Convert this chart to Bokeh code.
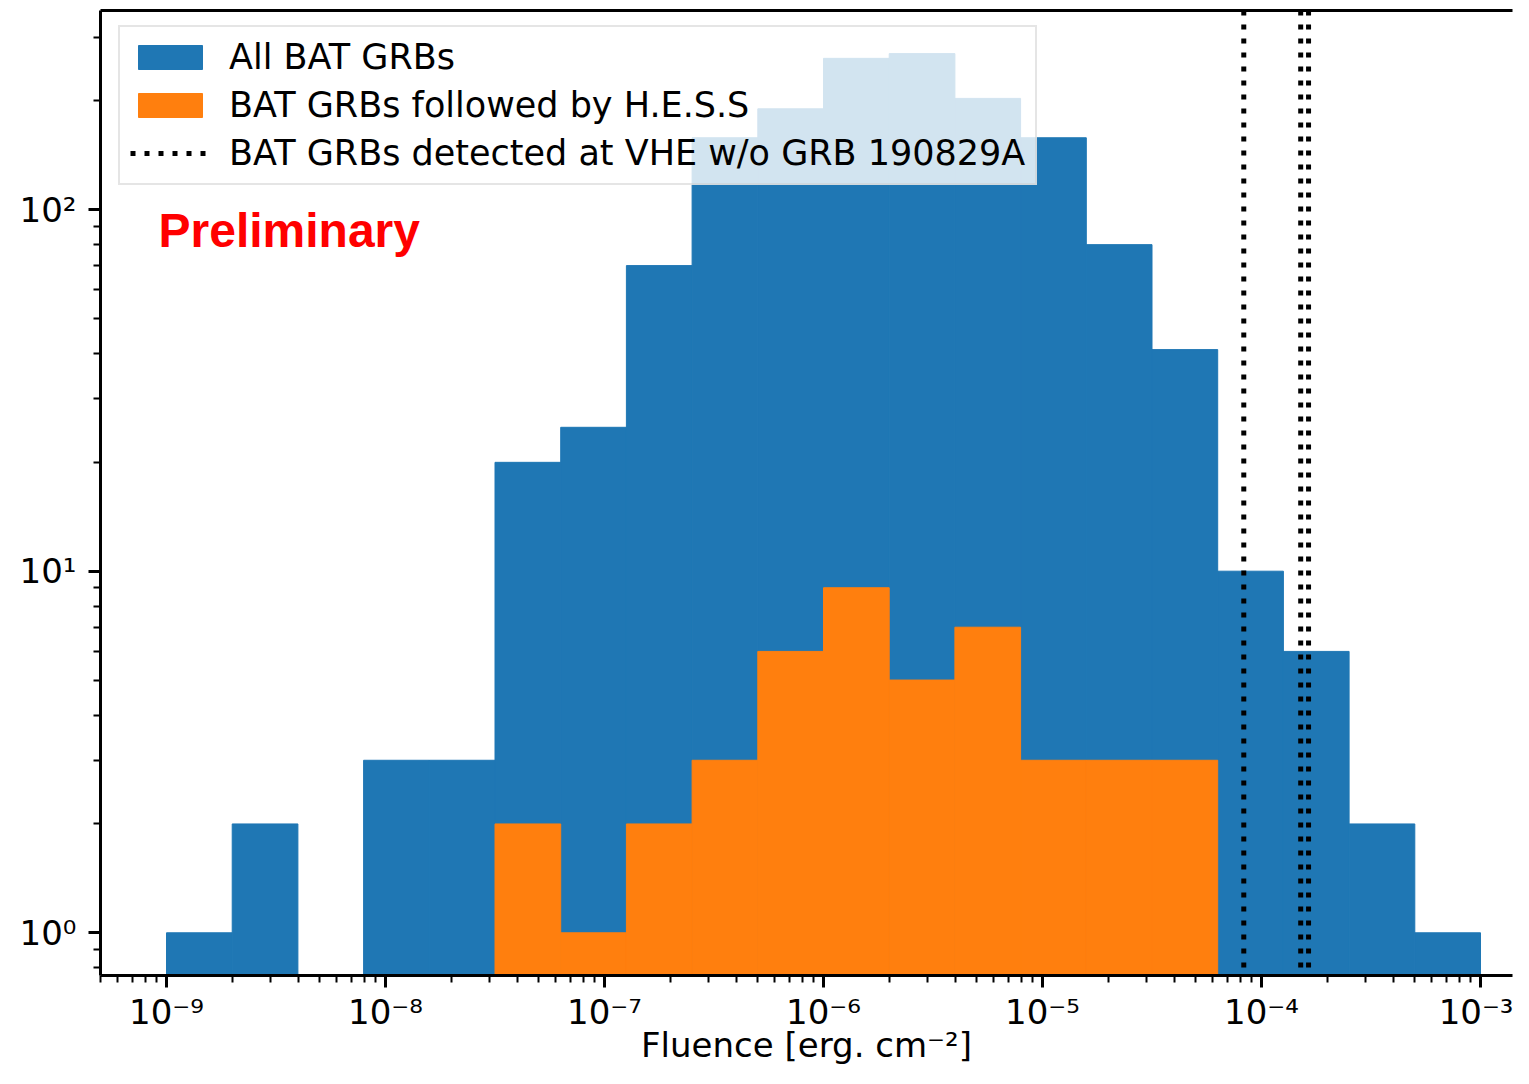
import numpy as np
from bokeh.plotting import figure
from bokeh.models import (FixedTicker, LogAxis, Legend, LegendItem, Label,
                          ColumnDataSource, Range1d)
from bokeh.embed import file_html
from bokeh.resources import INLINE

# ---------------- data ----------------
bin_edges = np.logspace(-9, -3, 21)          # 20 log bins, 1e-9 .. 1e-3
all_bat_counts = [1, 2, 0, 3, 3, 20, 25, 70, 158, 190, 262, 270, 203, 158, 80, 41, 10, 6, 2, 1]
hess_counts = [0, 0, 0, 0, 0, 2, 1, 2, 3, 6, 9, 5, 7, 3, 3, 3, 0, 0, 0, 0]
vhe_fluences = [8.3e-5, 1.51e-4, 1.64e-4]

x_tick_values = [float(f"1e{e}") for e in range(-9, -2)]
x_tick_labels = ["10⁻⁹", "10⁻⁸", "10⁻⁷", "10⁻⁶", "10⁻⁵", "10⁻⁴", "10⁻³"]
y_tick_values = [1.0, 10.0, 100.0]
y_tick_labels = ["10⁰", "10¹", "10²"]

series_names = ["All BAT GRBs", "BAT GRBs followed by H.E.S.S",
                "BAT GRBs detected at VHE w/o GRB 190829A"]
x_label = "Fluence [erg. cm⁻²]"
annot_text = "Preliminary"

BLUE = "#1f77b4"
ORANGE = "#ff7f0e"

# ---------------- view ----------------
W, H = 1513, 1068
F_LEFT, F_RIGHT, F_TOP, F_BOTTOM = 100, 1512, 10, 975
x_lo, x_hi = 10 ** -9.3014, 10 ** (-9 + (F_RIGHT - 166) / 219.0)
y_lo, y_hi = 10 ** -0.1181, 10 ** 2.5506
y_floor = 1e-3

x_minor = [m * 10.0 ** e for e in range(-10, -2) for m in range(2, 10)]
x_minor = [v for v in x_minor if x_lo <= v <= x_hi]
y_minor = [m * 10.0 ** e for e in range(-1, 3) for m in range(2, 10)]
y_minor = [v for v in y_minor if y_lo <= v <= y_hi]

p = figure(width=W, height=H, x_axis_type="log", y_axis_type="log",
           x_range=Range1d(x_lo, x_hi), y_range=Range1d(y_lo, y_hi),
           output_backend="svg", toolbar_location=None,
           min_border_left=F_LEFT, min_border_right=W - F_RIGHT,
           min_border_top=F_TOP, min_border_bottom=H - F_BOTTOM)
p.outline_line_color = None
p.grid.visible = False
p.background_fill_color = "white"
p.border_fill_color = "white"

FONT = "DejaVu Sans"
for ax in (p.xaxis[0], p.yaxis[0]):
    ax.axis_line_width = 3
    ax.axis_line_color = "black"
    ax.major_tick_line_width = 3
    ax.minor_tick_line_width = 2
    ax.major_tick_out = 12
    ax.major_tick_in = 0
    ax.minor_tick_out = 7
    ax.minor_tick_in = 0
    ax.major_label_text_font = FONT
    ax.major_label_text_font_size = "34px"
    ax.major_label_text_color = "black"

xa = p.xaxis[0]
xa.ticker = FixedTicker(ticks=x_tick_values, minor_ticks=x_minor)
xa.major_label_overrides = dict(zip(x_tick_values, x_tick_labels))
xa.major_label_standoff = 4
xa.axis_label = x_label
xa.axis_label_text_font = FONT
xa.axis_label_text_font_size = "34px"
xa.axis_label_text_font_style = "normal"
xa.axis_label_text_color = "black"
xa.axis_label_standoff = -10

ya = p.yaxis[0]
ya.ticker = FixedTicker(ticks=y_tick_values, minor_ticks=y_minor)
ya.major_label_overrides = dict(zip(y_tick_values, y_tick_labels))
ya.major_label_standoff = 12

top_axis = LogAxis(ticker=FixedTicker(ticks=[], minor_ticks=[]),
                   axis_line_width=3, axis_line_color="black",
                   major_tick_out=0, minor_tick_out=0, major_label_standoff=0,
                   major_label_text_font_size="0px")
p.add_layout(top_axis, "above")

# ---------------- histograms ----------------
def hist_source(counts):
    c = np.asarray(counts, dtype=float)
    m = c > 0
    return ColumnDataSource(dict(left=bin_edges[:-1][m], right=bin_edges[1:][m], top=c[m]))

r_all = p.quad(left="left", right="right", top="top", bottom=y_floor,
               source=hist_source(all_bat_counts), fill_color=BLUE,
               line_color=BLUE, line_width=1)
r_hess = p.quad(left="left", right="right", top="top", bottom=y_floor,
                source=hist_source(hess_counts), fill_color=ORANGE,
                line_color=ORANGE, line_width=1)

vsrc = ColumnDataSource(dict(x=vhe_fluences, y0=[y_floor] * len(vhe_fluences),
                             y1=[y_hi * 10] * len(vhe_fluences)))
r_vhe = p.segment(x0="x", x1="x", y0="y0", y1="y1", source=vsrc,
                  line_color="black", line_width=5, line_dash="5 9")

legend = Legend(items=[LegendItem(label=series_names[0], renderers=[r_all]),
                       LegendItem(label=series_names[1], renderers=[r_hess]),
                       LegendItem(label=series_names[2], renderers=[r_vhe])],
                location=(18, 790), margin=0, padding=10, spacing=8,
                glyph_width=80, glyph_height=30, label_standoff=19, label_height=38,
                label_text_font=FONT, label_text_font_size="35px",
                label_text_color="black",
                border_line_color="#cccccc", border_line_width=2.5,
                background_fill_color="white", background_fill_alpha=0.8)
p.add_layout(legend)

p.add_layout(Label(x=58, y=F_BOTTOM - 230, x_units="screen", y_units="screen",
                   text=annot_text, text_color="red", text_font="Liberation Sans",
                   text_font_style="bold", text_font_size="48px",
                   text_baseline="alphabetic"))

open("out.html", "w").write(file_html(p, INLINE))
